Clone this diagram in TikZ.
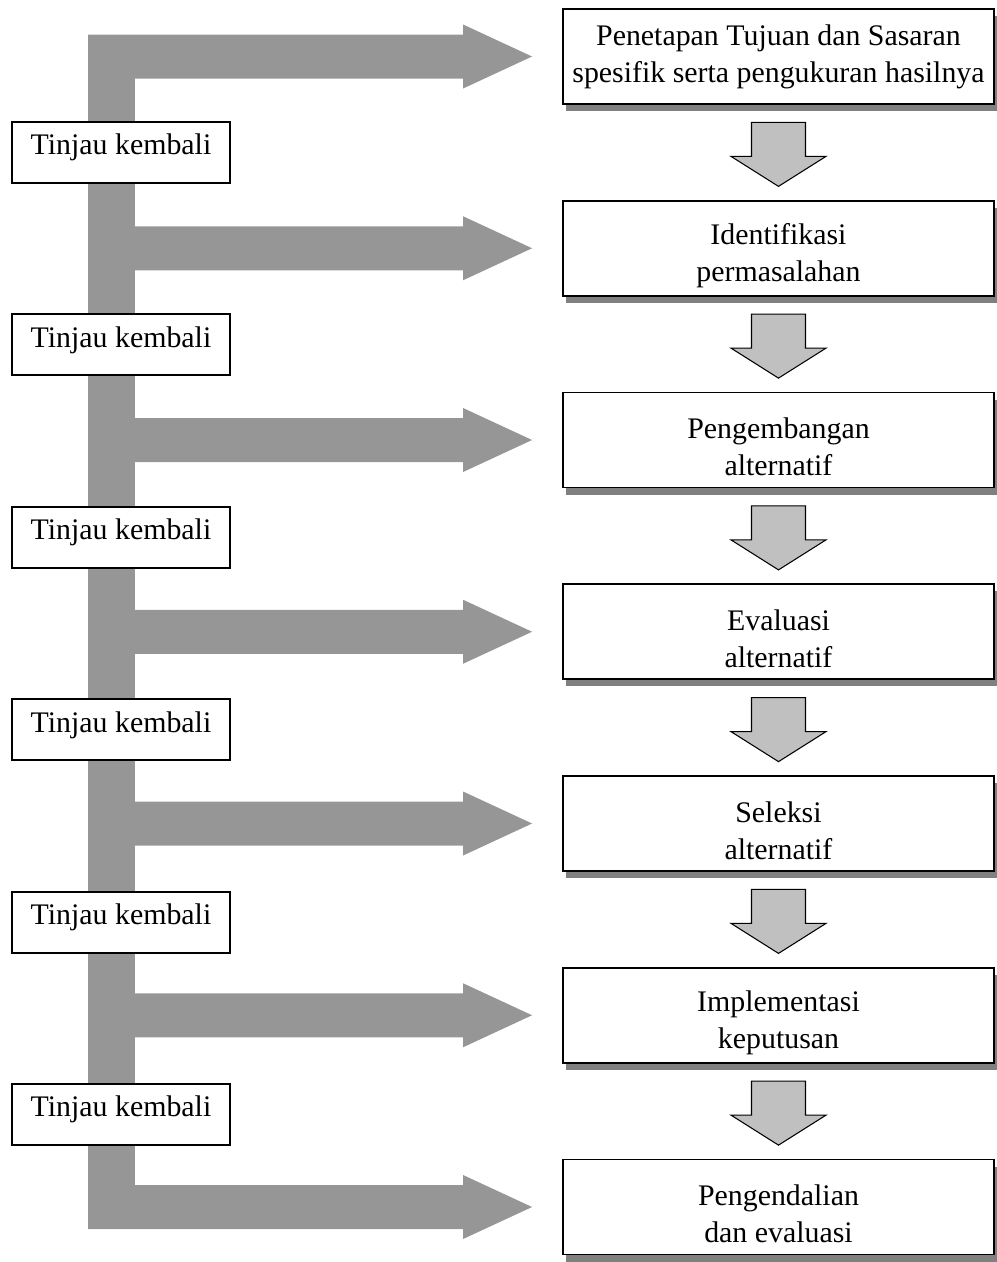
\documentclass[tikz,border=0pt]{standalone}
\usepackage{fontspec}
\setmainfont{Liberation Serif}
\usetikzlibrary{calc}
\definecolor{bargray}{RGB}{150,150,150}
\definecolor{arrowgray}{RGB}{192,192,192}
\definecolor{shadowgray}{RGB}{128,128,128}

\begin{document}
\begin{tikzpicture}[x=0.02cm, y=-0.02cm,
    font=\fontsize{17}{21}\selectfont,
    stepbox/.style={draw, line width=1.1pt, fill=white, align=center,
        minimum width=8.62cm, minimum height=1.9cm, inner sep=0pt,
        preaction={fill=shadowgray, draw=none,
            transform canvas={xshift=1.7pt, yshift=-4pt}}},
    review/.style={draw, line width=1.1pt, fill=white,
        minimum width=4.36cm, minimum height=1.22cm, inner sep=0pt,
        text height=11.6pt, text depth=8.8pt,
        preaction={fill=shadowgray, draw=none,
            transform canvas={xshift=0.6pt, yshift=-0.6pt}}},
    feedarrow/.pic={
        \fill[bargray] (-444,-22) -- (-69,-22) -- (-69,-32) -- (0,0)
            -- (-69,32) -- (-69,22) -- (-444,22) -- cycle;},
    downarrow/.pic={
        \filldraw[fill=arrowgray, line width=0.6pt, line join=miter]
            (-27,-32) -- (27,-32) -- (27,2) -- (47.5,2) -- (0,32)
            -- (-47.5,2) -- (-27,2) -- cycle;}]
\useasboundingbox (0,0) rectangle (997,1262);

% langkah
\node[stepbox] (b1) at (778.5,56.5) {Penetapan Tujuan dan Sasaran\\spesifik serta pengukuran hasilnya};
\node[stepbox] (b2) at (778.5,248.25) {\rule{0pt}{20pt}Identifikasi\\permasalahan};
\node[stepbox] (b3) at (778.5,440) {\rule{0pt}{20pt}Pengembangan\\alternatif};
\node[stepbox] (b4) at (778.5,631.75) {\rule{0pt}{20pt}Evaluasi\\alternatif};
\node[stepbox] (b5) at (778.5,823.5) {\rule{0pt}{20pt}Seleksi\\alternatif};
\node[stepbox] (b6) at (778.5,1015.25) {\rule{0pt}{20pt}Implementasi\\keputusan};
\node[stepbox] (b7) at (778.5,1207) {\rule{0pt}{20pt}Pengendalian\\dan evaluasi};

\path ($(b1.south)!0.5!(b2.north)$) ++(0,2) pic {downarrow};
\path ($(b2.south)!0.5!(b3.north)$) ++(0,2) pic {downarrow};
\path ($(b3.south)!0.5!(b4.north)$) ++(0,2) pic {downarrow};
\path ($(b4.south)!0.5!(b5.north)$) ++(0,2) pic {downarrow};
\path ($(b5.south)!0.5!(b6.north)$) ++(0,2) pic {downarrow};
\path ($(b6.south)!0.5!(b7.north)$) ++(0,2) pic {downarrow};

% umpan balik
\fill[bargray] (88,34.5) rectangle (135,1229);
\path ($(b1.west)+(-30,0)$) pic {feedarrow};
\path ($(b2.west)+(-30,0)$) pic {feedarrow};
\path ($(b3.west)+(-30,0)$) pic {feedarrow};
\path ($(b4.west)+(-30,0)$) pic {feedarrow};
\path ($(b5.west)+(-30,0)$) pic {feedarrow};
\path ($(b6.west)+(-30,0)$) pic {feedarrow};
\path ($(b7.west)+(-30,0)$) pic {feedarrow};

\node[review] (t1) at (121,152.5) {Tinjau kembali};
\node[review] (t2) at (121,344.9) {Tinjau kembali};
\node[review] (t3) at (121,537.3) {Tinjau kembali};
\node[review] (t4) at (121,729.7) {Tinjau kembali};
\node[review] (t5) at (121,922.1) {Tinjau kembali};
\node[review] (t6) at (121,1114.5) {Tinjau kembali};
\end{tikzpicture}
\end{document}
